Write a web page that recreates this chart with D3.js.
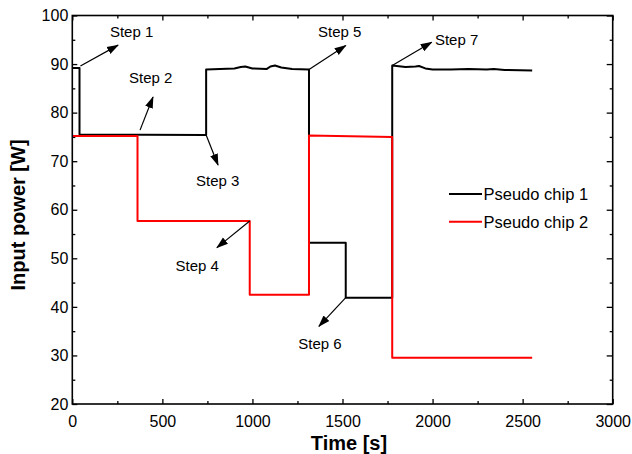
<!DOCTYPE html>
<html>
<head>
<meta charset="utf-8">
<script src="https://cdn.jsdelivr.net/npm/d3@7"></script>
<style>
  body { margin: 0; background: #fff; }
  svg { font-family: "Liberation Sans", Arial, sans-serif; }
</style>
</head>
<body>
<div id="chart"></div>
<script>
// chip 1 (black) [time s, power W]
const chip1 = [
  [0, 89.2], [40, 89.2], [40, 75.5], [743, 75.4], [743, 88.9], [820, 89.0],
  [900, 89.1], [935, 89.4], [960, 89.5], [1000, 89.1], [1080, 89.0], [1100, 89.5],
  [1125, 89.7], [1160, 89.3], [1220, 89.0], [1314, 88.9], [1314, 53.2],
  [1518, 53.2], [1518, 41.9], [1776, 41.9], [1776, 89.7], [1850, 89.4],
  [1905, 89.5], [1925, 89.6], [1960, 89.1], [2000, 88.9], [2100, 88.9],
  [2200, 89.0], [2300, 88.9], [2340, 89.0], [2400, 88.8], [2553, 88.7]
];
// chip 2 (red)
const chip2 = [
  [0, 75.2], [362, 75.2], [362, 57.7], [985, 57.7], [985, 42.5], [1314, 42.5],
  [1314, 75.3], [1776, 75.0], [1776, 29.5], [2553, 29.5]
];
const seriesNames = ["Pseudo chip 1", "Pseudo chip 2"];
const seriesColors = ["#000000", "#ff0000"];

// step annotations: label, arrow from [t,v] to [t,v], text pos [t,v], anchor
const stepLabels = ["Step 1", "Step 2", "Step 3", "Step 4", "Step 5", "Step 6", "Step 7"];
const stepFrom = [[45, 89.6], [376, 76.4], [743, 75.4], [985, 57.7], [1314, 88.9], [1518, 41.9], [1776, 89.7]];
const stepTo = [[254, 93.9], [448, 83.2], [809, 69.2], [803, 52.2], [1518, 93.8], [1369, 36.0], [1995, 94.5]];
const stepText = [[209, 95.5], [315, 86.2], [687, 64.9], [814, 47.4], [1364, 95.6], [1495, 31.4], [2013, 94.0]];
const stepAnchor = ["start", "start", "start", "end", "start", "end", "start"];

const xTicks = [0, 500, 1000, 1500, 2000, 2500, 3000];
const xMinor = [250, 750, 1250, 1750, 2250, 2750];
const yTicks = [20, 30, 40, 50, 60, 70, 80, 90, 100];
const yMinor = [25, 35, 45, 55, 65, 75, 85, 95];

const width = 632, height = 454;
const margin = {top: 15.5, right: 19.3, bottom: 50, left: 72.3};

const x = d3.scaleLinear().domain([0, 3000]).range([margin.left, width - margin.right]);
const y = d3.scaleLinear().domain([20, 100]).range([height - margin.bottom, margin.top]);

const svg = d3.select("#chart").append("svg")
  .attr("width", width)
  .attr("height", height);

const defs = svg.append("defs");
defs.append("marker")
  .attr("id", "arrow")
  .attr("viewBox", "0 0 12 10")
  .attr("refX", 11).attr("refY", 5)
  .attr("markerWidth", 12).attr("markerHeight", 10)
  .attr("markerUnits", "userSpaceOnUse")
  .attr("orient", "auto")
  .append("path")
  .attr("d", "M0,1L12,5L0,9z")
  .attr("fill", "#000");

const tickStyle = g => g
  .call(g => g.select(".domain").remove())
  .call(g => g.selectAll(".tick line").attr("stroke", "#000").attr("stroke-width", 1.3))
  .call(g => g.selectAll(".tick text").attr("fill", "#000").attr("font-size", 16));

// bottom
svg.append("g")
  .attr("transform", `translate(0,${y(20)})`)
  .call(d3.axisBottom(x).tickValues(xTicks).tickSize(-5).tickPadding(12).tickFormat(d3.format("d")))
  .call(tickStyle);
svg.append("g")
  .attr("transform", `translate(0,${y(20)})`)
  .call(d3.axisBottom(x).tickValues(xMinor).tickSize(-3).tickFormat(""))
  .call(tickStyle);
// top
svg.append("g")
  .attr("transform", `translate(0,${y(100)})`)
  .call(d3.axisTop(x).tickValues(xTicks).tickSize(-5).tickFormat(""))
  .call(tickStyle);
svg.append("g")
  .attr("transform", `translate(0,${y(100)})`)
  .call(d3.axisTop(x).tickValues(xMinor).tickSize(-3).tickFormat(""))
  .call(tickStyle);
// left
svg.append("g")
  .attr("transform", `translate(${x(0)},0)`)
  .call(d3.axisLeft(y).tickValues(yTicks).tickSize(-5).tickPadding(4))
  .call(tickStyle);
svg.append("g")
  .attr("transform", `translate(${x(0)},0)`)
  .call(d3.axisLeft(y).tickValues(yMinor).tickSize(-3).tickFormat(""))
  .call(tickStyle);
// right
svg.append("g")
  .attr("transform", `translate(${x(3000)},0)`)
  .call(d3.axisRight(y).tickValues(yTicks).tickSize(-6).tickFormat(""))
  .call(tickStyle);
svg.append("g")
  .attr("transform", `translate(${x(3000)},0)`)
  .call(d3.axisRight(y).tickValues(yMinor).tickSize(-3).tickFormat(""))
  .call(tickStyle);

// data lines
const line = d3.line().x(d => x(d[0])).y(d => y(d[1]));
[chip1, chip2].forEach((s, i) => {
  svg.append("path")
    .datum(s)
    .attr("fill", "none")
    .attr("stroke", seriesColors[i])
    .attr("stroke-width", 2)
    .attr("stroke-linejoin", "round")
    .attr("d", line);
});

// frame
svg.append("rect")
  .attr("x", x(0)).attr("y", y(100))
  .attr("width", x(3000) - x(0)).attr("height", y(20) - y(100))
  .attr("fill", "none")
  .attr("stroke", "#000")
  .attr("stroke-width", 1.6);

// step annotations
const ann = svg.append("g");
stepLabels.forEach((lab, i) => {
  ann.append("line")
    .attr("x1", x(stepFrom[i][0])).attr("y1", y(stepFrom[i][1]))
    .attr("x2", x(stepTo[i][0])).attr("y2", y(stepTo[i][1]))
    .attr("stroke", "#000")
    .attr("stroke-width", 1.2)
    .attr("marker-end", "url(#arrow)");
  ann.append("text")
    .attr("x", x(stepText[i][0])).attr("y", y(stepText[i][1]))
    .attr("text-anchor", stepAnchor[i])
    .attr("font-size", 15)
    .attr("fill", "#000")
    .text(lab);
});

// legend
const legend = svg.append("g");
seriesNames.forEach((name, i) => {
  const ly = 194 + i * 27.7;
  legend.append("line")
    .attr("x1", 449).attr("x2", 482)
    .attr("y1", ly).attr("y2", ly)
    .attr("stroke", seriesColors[i])
    .attr("stroke-width", 2);
  legend.append("text")
    .attr("x", 483.5).attr("y", ly)
    .attr("dy", "0.36em")
    .attr("font-size", 16.5)
    .attr("fill", "#000")
    .text(name);
});

// axis titles
svg.append("text")
  .attr("x", 349).attr("y", 449.5)
  .attr("text-anchor", "middle")
  .attr("font-size", 20)
  .attr("font-weight", "bold")
  .text("Time [s]");
svg.append("text")
  .attr("transform", `translate(24.5,215) rotate(-90)`)
  .attr("text-anchor", "middle")
  .attr("font-size", 20)
  .attr("font-weight", "bold")
  .text("Input power [W]");
</script>
</body>
</html>
